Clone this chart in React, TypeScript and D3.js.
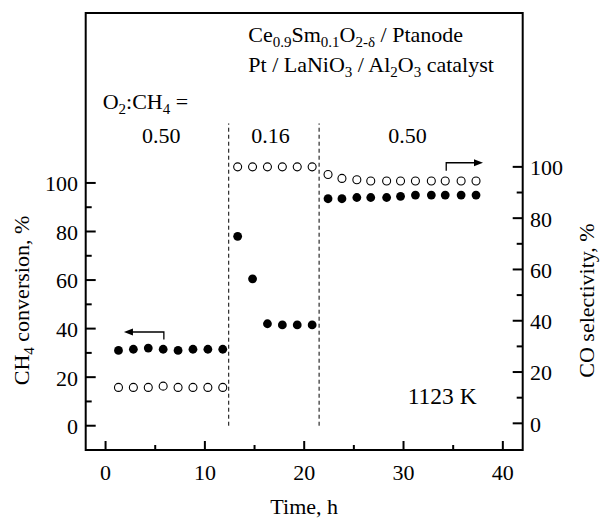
import React from 'react';
import * as d3 from 'd3';

// chart size and frame position
const width = 604, height = 518;
const frame = { left: 85.7, right: 522.7, top: 13, bottom: 450 };

// data: time (h), CH4 conversion (%) and CO selectivity (%)
const timeA = [1.3, 2.8, 4.3, 5.8, 7.3, 8.8, 10.3, 11.8];
const ch4A = [31, 31.5, 32, 31.5, 31, 31.5, 31.5, 31.5];
const coA = [14, 14, 14, 14.5, 14, 14, 14, 14];

const timeB = [13.3, 14.8, 16.3, 17.8, 19.3, 20.8];
const ch4B = [78, 60.5, 42, 41.5, 41.5, 41.5];
const coB = [100, 100, 100, 100, 100, 100];

const timeC = [22.4, 23.8, 25.3, 26.7, 28.3, 29.7, 31.2, 32.8, 34.2, 35.8, 37.3];
const ch4C = [93.5, 93.5, 94, 94, 94, 94.5, 95, 95, 95, 95, 95];
const coC = [97, 95.5, 95, 94.5, 94.5, 94.5, 94.5, 94.5, 94.5, 94.5, 94.5];

// O2:CH4 ratio periods
const boundaries = [12.4, 21.5];
const ratioLabels = ['0.50', '0.16', '0.50'];
const ratioCenters = [5.6, 16.6, 30.4];

// ticks
const xMajor = [0, 10, 20, 30, 40];
const xMinor = [5, 15, 25, 35];
const yMajor = [0, 20, 40, 60, 80, 100];
const yMinor = [10, 30, 50, 70, 90];

const x = d3.scaleLinear().domain([-2, 42]).range([frame.left, frame.right]);
const yL = d3.scaleLinear().domain([-10, 170]).range([frame.bottom, frame.top]);
const yR = d3.scaleLinear().domain([-10.4, 160]).range([frame.bottom, frame.top]);

const font = '"Liberation Serif", "Times New Roman", serif';
const fs = 22;
const subFs = 15;

// small helper for text with subscripts: parts alternate normal / subscript
type Part = [string, boolean];
const Rich = ({ parts, ...rest }: { parts: Part[]; [k: string]: any }) => {
    let down = false;
    return (
        <text {...rest}>
            {parts.map(([t, sub], i) => {
                let dy = 0;
                if (sub && !down) { dy = 5; down = true; }
                else if (!sub && down) { dy = -5; down = false; }
                return <tspan key={i} dy={dy} fontSize={sub ? subFs : fs}>{t}</tspan>;
            })}
        </text>
    );
};

// arrow pointing at the axis the series belongs to
const Arrow = ({ x0, x1, y, yTail, dir }: { x0: number; x1: number; y: number; yTail: number; dir: number }) => {
    const tip = dir < 0 ? x0 : x1;
    const tail = dir < 0 ? x1 : x0;
    const head = `${tip},${y} ${tip - dir * 9},${y - 3.5} ${tip - dir * 9},${y + 3.5}`;
    return (
        <g>
            <path d={`M${tail},${yTail}V${y}H${tip - dir * 6}`} fill="none" stroke="black" strokeWidth={1.3} />
            <polygon points={head} fill="black" />
        </g>
    );
};

export default function App() {
    const filled = [
        ...timeA.map((t, i) => [t, ch4A[i]]),
        ...timeB.map((t, i) => [t, ch4B[i]]),
        ...timeC.map((t, i) => [t, ch4C[i]]),
    ];
    const open = [
        ...timeA.map((t, i) => [t, coA[i]]),
        ...timeB.map((t, i) => [t, coB[i]]),
        ...timeC.map((t, i) => [t, coC[i]]),
    ];

    return (
        <svg width={width} height={height} style={{ position: 'absolute', left: 0, top: 0 }}
            fontFamily={font} fontSize={fs}>
            <rect x={0} y={0} width={width} height={height} fill="white" />

            {/* period separators */}
            {boundaries.map(b => (
                <line key={b} x1={x(b)} x2={x(b)} y1={yL(0)} y2={yL(124.5)}
                    stroke="black" strokeWidth={1} strokeDasharray="4,3" />
            ))}

            {/* bottom ticks */}
            {xMajor.map(v => (
                <g key={'xM' + v}>
                    <line x1={x(v)} x2={x(v)} y1={frame.bottom} y2={frame.bottom - 9} stroke="black" strokeWidth={2} />
                    <text x={x(v)} y={480} textAnchor="middle">{v}</text>
                </g>
            ))}
            {xMinor.map(v => (
                <line key={'xm' + v} x1={x(v)} x2={x(v)} y1={frame.bottom} y2={frame.bottom - 5} stroke="black" strokeWidth={2} />
            ))}

            {/* left ticks */}
            {yMajor.map(v => (
                <g key={'lM' + v}>
                    <line x1={frame.left} x2={frame.left + 10} y1={yL(v)} y2={yL(v)} stroke="black" strokeWidth={2} />
                    <text x={78} y={yL(v)} dy="0.38em" textAnchor="end">{v}</text>
                </g>
            ))}
            {yMinor.map(v => (
                <line key={'lm' + v} x1={frame.left} x2={frame.left + 6} y1={yL(v)} y2={yL(v)} stroke="black" strokeWidth={2} />
            ))}

            {/* right ticks */}
            {yMajor.map(v => (
                <g key={'rM' + v}>
                    <line x1={frame.right} x2={frame.right - 10} y1={yR(v)} y2={yR(v)} stroke="black" strokeWidth={2} />
                    <text x={530} y={yR(v)} dy="0.38em" textAnchor="start">{v}</text>
                </g>
            ))}
            {yMinor.map(v => (
                <line key={'rm' + v} x1={frame.right} x2={frame.right - 6} y1={yR(v)} y2={yR(v)} stroke="black" strokeWidth={2} />
            ))}

            <rect x={frame.left} y={frame.top} width={frame.right - frame.left} height={frame.bottom - frame.top}
                fill="none" stroke="black" strokeWidth={2} />

            {/* CO selectivity, open circles */}
            {open.map(([t, v], i) => (
                <circle key={'o' + i} cx={x(t)} cy={yR(v)} r={4} fill="white" stroke="black" strokeWidth={1.1} />
            ))}
            {/* CH4 conversion, filled circles */}
            {filled.map(([t, v], i) => (
                <circle key={'f' + i} cx={x(t)} cy={yL(v)} r={4.4} fill="black" />
            ))}

            {/* arrows */}
            <Arrow x0={x(1.85)} x1={x(5.87)} y={yL(38.6)} yTail={yL(35.5)} dir={-1} />
            <Arrow x0={x(34.3)} x1={x(38)} y={yR(101.6)} yTail={yR(98.5)} dir={1} />

            {/* annotations */}
            <Rich x={248.3} y={41.7} parts={[['Ce', false], ['0.9', true], ['Sm', false], ['0.1', true], ['O', false], ['2-δ', true], [' / Ptanode', false]]} />
            <Rich x={248.3} y={71.7} parts={[['Pt / LaNiO', false], ['3', true], [' / Al', false], ['2', true], ['O', false], ['3', true], [' catalyst', false]]} />
            <Rich x={102.7} y={109.3} parts={[['O', false], ['2', true], [':CH', false], ['4', true], [' =', false]]} />
            {ratioLabels.map((l, i) => (
                <text key={'r' + i} x={x(ratioCenters[i])} y={143.3} textAnchor="middle">{l}</text>
            ))}
            <text x={476.7} y={404} textAnchor="end" fontSize={23.5}>1123 K</text>

            {/* axis titles */}
            <text x={(frame.left + frame.right) / 2} y={513.5} textAnchor="middle">Time, h</text>
            <g transform={`translate(28.5,300.5) rotate(-90)`}>
                <Rich x={0} y={0} textAnchor="middle" parts={[['CH', false], ['4', true], [' conversion, %', false]]} />
            </g>
            <g transform={`translate(593.5,300.5) rotate(-90)`}>
                <text x={0} y={0} textAnchor="middle">CO selectivity, %</text>
            </g>
        </svg>
    );
}
